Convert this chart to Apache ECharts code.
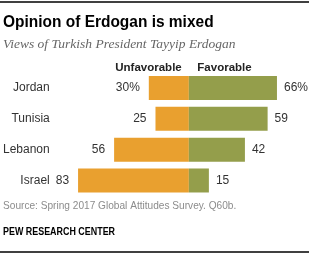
<!DOCTYPE html>
<html><head><meta charset="utf-8">
<script src="https://cdn.jsdelivr.net/npm/echarts@6/dist/echarts.min.js"></script>
<style>html,body{margin:0;padding:0;background:#fff}#c{width:311px;height:255px}</style>
</head><body><div id="c"></div>
<script>
const countries = ["Jordan", "Tunisia", "Lebanon", "Israel"];
const unfavorable = [30, 25, 56, 83];
const favorable = [66, 59, 42, 15];

const chart = echarts.init(document.getElementById('c'), null, {renderer: 'canvas'});
const font = '"Liberation Sans", Arial, sans-serif';
chart.setOption({
  animation: false,
  grid: {left: 68, width: 241, top: 72.6, height: 123.3, containLabel: false},
  xAxis: {type: 'value', min: -90, max: 90, show: false},
  yAxis: {type: 'category', data: countries, inverse: true,
    axisLine: {show: false}, axisTick: {show: false}, splitLine: {show: false},
    axisLabel: {margin: 19, color: '#333', fontSize: 12, fontFamily: font}},
  series: [
    {type: 'bar', stack: 's', barWidth: 24, data: unfavorable.map(v => -v),
     itemStyle: {color: '#E9A02F'},
     label: {show: true, position: 'left', distance: 9, color: '#333', fontSize: 12, fontFamily: font,
       formatter: p => Math.abs(p.value) + (p.dataIndex === 0 ? '%' : '')}},
    {type: 'bar', stack: 's', barWidth: 24, data: favorable,
     itemStyle: {color: '#949E4B'},
     label: {show: true, position: 'right', distance: 7, color: '#333', fontSize: 12, fontFamily: font,
       formatter: p => p.value + (p.dataIndex === 0 ? '%' : '')}}
  ],
  graphic: [
    {type: 'line', shape: {x1: 0, y1: 2, x2: 309, y2: 2}, style: {stroke: '#000', lineWidth: 1.5}},
    {type: 'text', x: 3, y: 14, scaleX: 0.91, style: {text: 'Opinion of Erdogan is mixed', fontSize: 17, fontWeight: 'bold', fill: '#000', fontFamily: font, verticalAlign: 'top'}},
    {type: 'text', left: 3, top: 37, style: {text: 'Views of Turkish President Tayyip Erdogan', fontSize: 13.5, fontStyle: 'italic', fill: '#666', fontFamily: '"Liberation Serif", "DejaVu Serif", serif'}},
    {type: 'text', x: 148.5, y: 68, style: {text: 'Unfavorable', fontSize: 11.5, fontWeight: 'bold', fill: '#222', align: 'center', verticalAlign: 'middle', fontFamily: font}},
    {type: 'text', x: 224.5, y: 68, style: {text: 'Favorable', fontSize: 11.5, fontWeight: 'bold', fill: '#222', align: 'center', verticalAlign: 'middle', fontFamily: font}},
    {type: 'text', x: 3, y: 200, scaleX: 0.92, style: {text: 'Source: Spring 2017 Global Attitudes Survey. Q60b.', fontSize: 11, fill: '#8c8c8c', fontFamily: font, verticalAlign: 'top'}},
    {type: 'text', x: 3, y: 227, scaleX: 0.85, style: {text: 'PEW RESEARCH CENTER', fontSize: 10.5, fontWeight: 'bold', fill: '#000', fontFamily: font, verticalAlign: 'top'}},
    {type: 'line', shape: {x1: 0, y1: 252, x2: 309, y2: 252}, style: {stroke: '#000', lineWidth: 1.5}}
  ]
});
</script></body></html>
